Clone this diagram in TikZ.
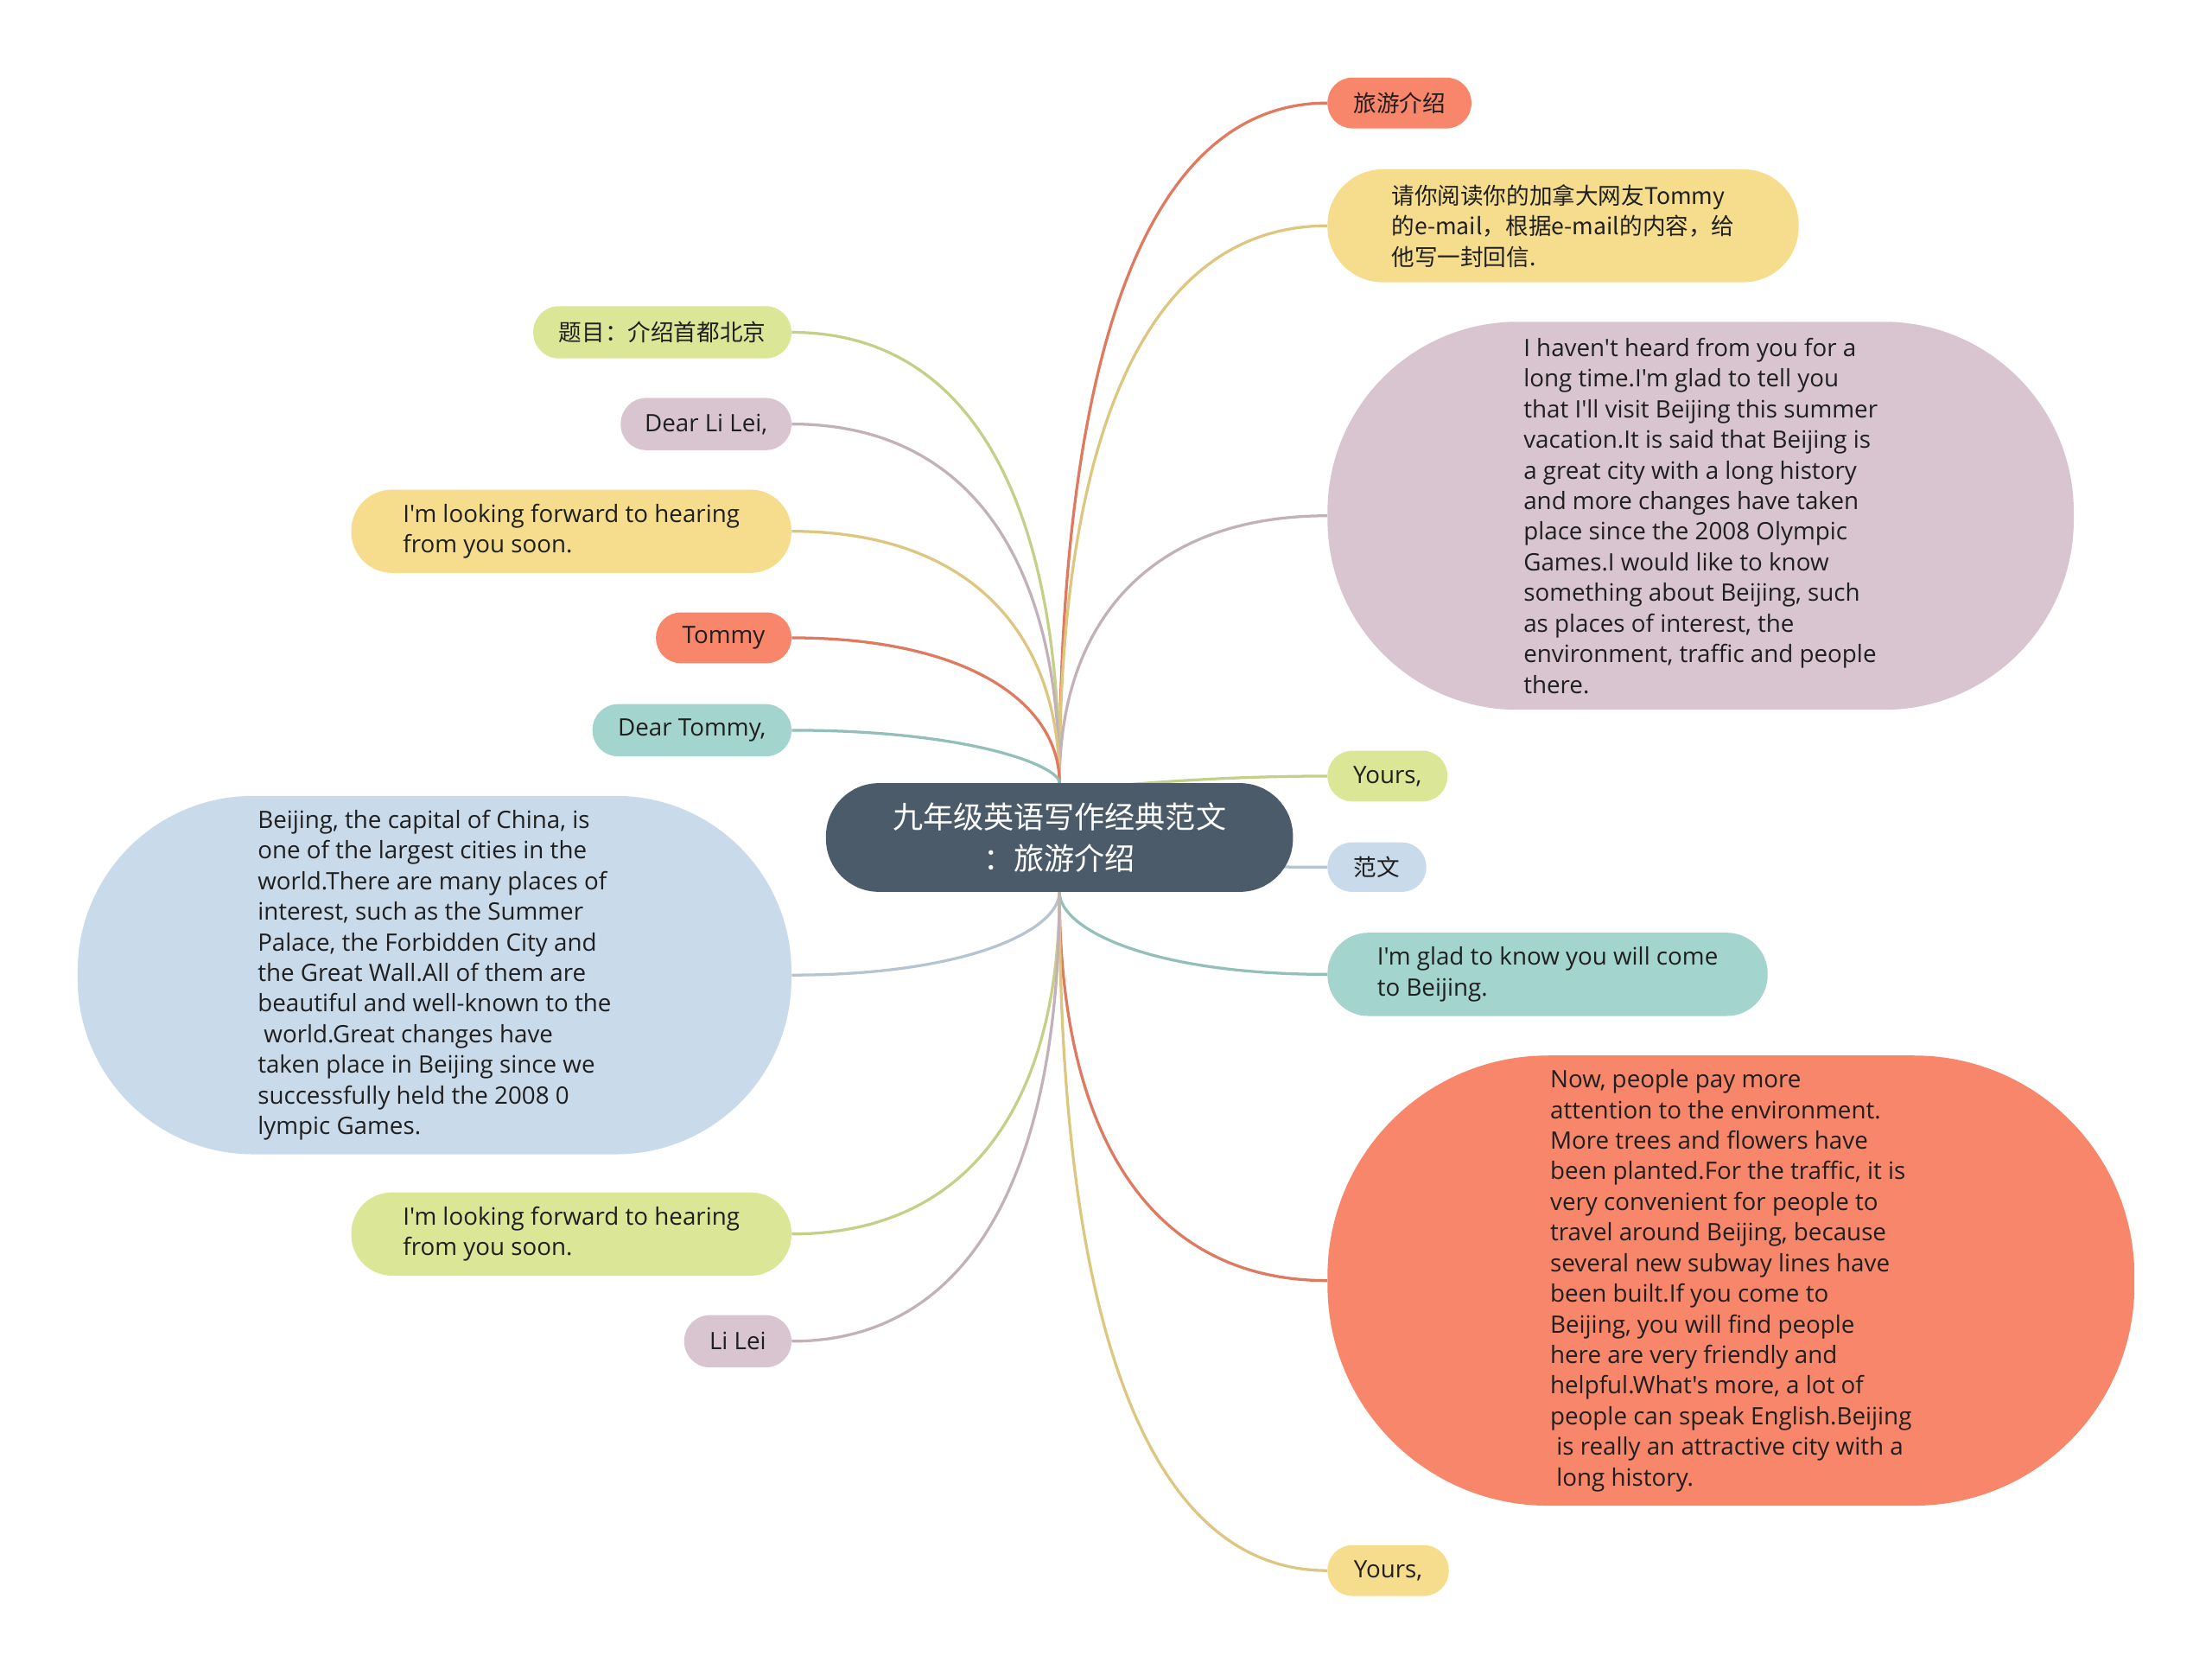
\documentclass[tikz,border=0pt]{standalone}
\usepackage{fontspec}
\setmainfont{Open Sans}[Ligatures=TeXOff]
\newfontfamily\cjk{Noto Sans CJK SC}
\usetikzlibrary{calc,backgrounds}

\definecolor{hubfill}{HTML}{4B5B6A}
\definecolor{salmon}{HTML}{F8866A}
\definecolor{sand}{HTML}{F6DD8E}
\definecolor{lime}{HTML}{DCE697}
\definecolor{mauve}{HTML}{D9C5CF}
\definecolor{skyblue}{HTML}{C9DAEA}
\definecolor{teal}{HTML}{A3D4CD}

\tikzset{
  leaf/.style={rectangle, inner sep=0pt, text=black!88, align=left,
    font=\fontsize{17}{21.7}\selectfont},
  pill/.style n args={3}{leaf, fill=#3, minimum width=#1pt,
    minimum height=#2pt, rounded corners=#2*0.49pt},
  link/.style={line width=2pt, #1!90!black}
}
\newcommand{\branch}[2]{%
  \draw[link=#1] (hub) .. controls ($(hub)!2/3!(hub |- #2)$)
    and ($(#2)!2/3!(hub |- #2)$) .. (#2);}

\begin{document}
\begin{tikzpicture}[x=1pt,y=-1pt]
\useasboundingbox (0,0) rectangle (1568,1187);

\node[rectangle, fill=hubfill, text=white, align=center, inner sep=0pt,
  minimum width=331pt, minimum height=77pt, rounded corners=37.5pt,
  font=\cjk\fontsize{21.5}{29}\selectfont] (hub) at (751,593.5)
  {九年级英语写作经典范文\\：旅游介绍};

\node[pill={102}{36}{salmon}, font=\cjk\fontsize{16.3}{21.7}\selectfont] (r1) at (992,73) {旅游介绍};
\node[pill={334}{80}{sand}, font=\cjk\fontsize{16.3}{21.7}\selectfont] (r2) at (1108,160)
  {请你阅读你的加拿大网友Tommy\\的e-mail，根据e-mail的内容，给\\他写一封回信.};
\node[pill={529}{275}{mauve}] (r3) at (1205.5,365.5)
  {I haven't heard from you for a\\long time.I'm glad to tell you\\
   that I'll visit Beijing this summer\\vacation.It is said that Beijing is\\
   a great city with a long history\\and more changes have taken\\
   place since the 2008 Olympic\\Games.I would like to know\\
   something about Beijing, such\\as places of interest, the\\
   environment, traffic and people\\there.};
\node[pill={85}{36}{lime}] (r4) at (983.5,550) {Yours,};
\node[pill={70}{35}{skyblue}, font=\cjk\fontsize{16.3}{21.7}\selectfont] (r5) at (976,614.5) {范文};
\node[pill={312}{59}{teal}] (r6) at (1097,690.5)
  {I'm glad to know you will come\\to Beijing.};
\node[pill={572}{319}{salmon}] (r7) at (1227,907.5)
  {Now, people pay more\\attention to the environment.\\
   More trees and flowers have\\been planted.For the traffic, it is\\
   very convenient for people to\\travel around Beijing, because\\
   several new subway lines have\\been built.If you come to\\
   Beijing, you will find people\\here are very friendly and\\
   helpful.What's more, a lot of\\people can speak English.Beijing\\
   \ is really an attractive city with a\\\ long history.};
\node[pill={86}{36}{sand}] (r8) at (984,1113) {Yours,};

\node[pill={183}{37}{lime}, font=\cjk\fontsize{16.3}{21.7}\selectfont] (l1) at (469.5,235.5) {题目：介绍首都北京};
\node[pill={121}{37}{mauve}] (l2) at (500.5,300.5) {Dear Li Lei,};
\node[pill={312}{59}{sand}] (l3) at (405,376.5)
  {I'm looking forward to hearing\\from you soon.};
\node[pill={96}{36}{salmon}] (l4) at (513,452) {Tommy};
\node[pill={141}{37}{teal}] (l5) at (490.5,517.5) {Dear Tommy,};
\node[pill={506}{254}{skyblue}] (l6) at (308,691)
  {Beijing, the capital of China, is\\one of the largest cities in the\\
   world.There are many places of\\interest, such as the Summer\\
   Palace, the Forbidden City and\\the Great Wall.All of them are\\
   beautiful and well-known to the\\\ world.Great changes have\\
   taken place in Beijing since we\\successfully held the 2008 0\\
   lympic Games.};
\node[pill={312}{59}{lime}] (l7) at (405,874.5)
  {I'm looking forward to hearing\\from you soon.};
\node[pill={76}{37}{mauve}] (l8) at (523,950.5) {Li Lei};

\begin{scope}[on background layer]
\branch{salmon}{r1.west}
\branch{sand}{r2.west}
\branch{mauve}{r3.west}
\branch{lime}{r4.west}
\branch{skyblue}{r5.west}
\branch{teal}{r6.west}
\branch{salmon}{r7.west}
\branch{sand}{r8.west}
\branch{lime}{l1.east}
\branch{mauve}{l2.east}
\branch{sand}{l3.east}
\branch{salmon}{l4.east}
\branch{teal}{l5.east}
\branch{skyblue}{l6.east}
\branch{lime}{l7.east}
\branch{mauve}{l8.east}
\end{scope}
\end{tikzpicture}
\end{document}
